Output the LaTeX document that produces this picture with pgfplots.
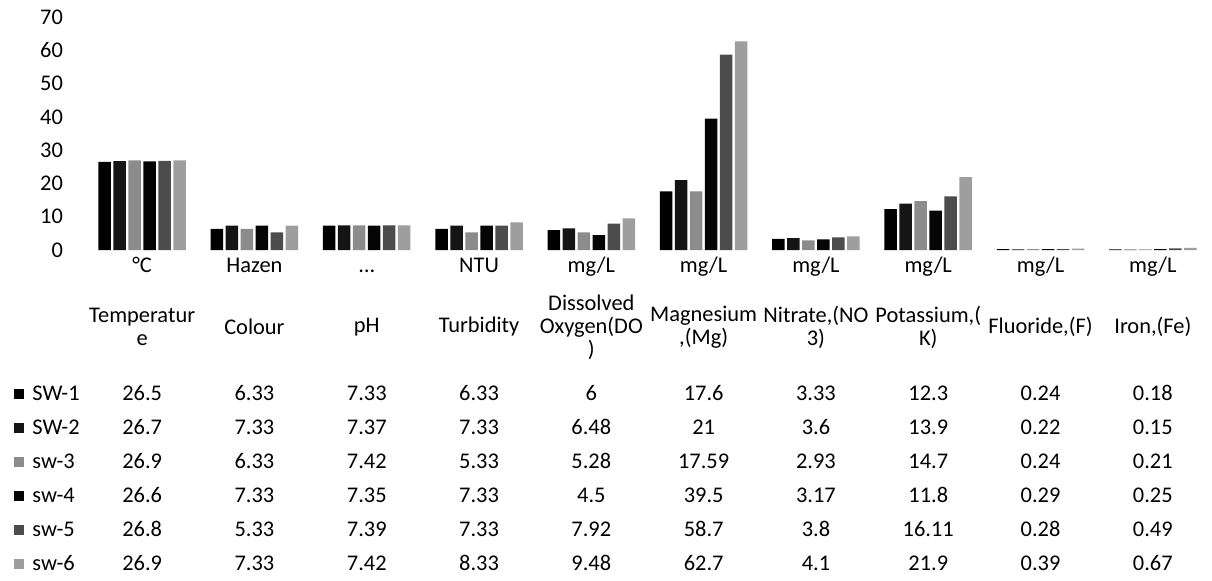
\documentclass[border=0pt]{standalone}
\usepackage{pgfplots}
\pgfplotsset{compat=1.18}
\usepackage{pgfplotstable}
\usepackage{fontspec}
\setmainfont[Numbers=Lining]{Carlito}

\pgfplotstableread{
x s1 s2 s3 s4 s5 s6
0 26.5 26.7 26.9 26.6 26.8 26.9
1 6.33 7.33 6.33 7.33 5.33 7.33
2 7.33 7.37 7.42 7.35 7.39 7.42
3 6.33 7.33 5.33 7.33 7.33 8.33
4 6 6.48 5.28 4.5 7.92 9.48
5 17.6 21 17.59 39.5 58.7 62.7
6 3.33 3.6 2.93 3.17 3.8 4.1
7 12.3 13.9 14.7 11.8 16.11 21.9
8 0.24 0.22 0.24 0.29 0.28 0.39
9 0.18 0.15 0.21 0.25 0.49 0.67
}\datatable

\definecolor{cA}{gray}{0.0}
\definecolor{cB}{gray}{0.08}
\definecolor{cC}{gray}{0.55}
\definecolor{cD}{gray}{0.02}
\definecolor{cE}{gray}{0.30}
\definecolor{cF}{gray}{0.62}

\begin{document}
\begin{tikzpicture}[font=\fontsize{11.2}{11.6}\selectfont,
  cell/.style={text height=1.6ex, text depth=0.3ex, inner sep=0pt}]
\begin{axis}[
  at={(0,0)}, anchor=south west,
  scale only axis, width=561.5pt, height=116.5pt,
  xmin=-0.5, xmax=9.5, ymin=0, ymax=70,
  axis line style={draw=none},
  major tick length=0pt,
  ytick={0,10,...,70},
  xtick={0,1,2,3,4,5,6,7,8,9},
  xticklabels={{°C},{Hazen},{\ldots},{NTU},{mg/L},{mg/L},{mg/L},{mg/L},{mg/L},{mg/L}},
  ybar=1.25pt, bar width=6.25pt,
  tick label style={font=\fontsize{11.2}{11.6}\selectfont},
  /pgf/number format/assume math mode=true,
  yticklabel style={xshift=-8pt},
  xticklabel style={text height=1.6ex, text depth=0.3ex, inner sep=0pt, yshift=-3.5pt},
  clip=false,
]
\addplot[fill=cA, draw=none] table[x=x,y=s1]{\datatable};
\addplot[fill=cB, draw=none] table[x=x,y=s2]{\datatable};
\addplot[fill=cC, draw=none] table[x=x,y=s3]{\datatable};
\addplot[fill=cD, draw=none] table[x=x,y=s4]{\datatable};
\addplot[fill=cE, draw=none] table[x=x,y=s5]{\datatable};
\addplot[fill=cF, draw=none] table[x=x,y=s6]{\datatable};
\end{axis}

% data table: parameter names
\foreach \lab [count=\i from 0] in {{Temperatur\\e},{Colour},{pH},{Turbidity},{Dissolved\\Oxygen(DO\\)},{Magnesium\\,(Mg)},{Nitrate,(NO\\3)},{Potassium,(\\K)},{Fluoride,(F)},{Iron,(Fe)}}
  \node[align=center] at ({(\i+0.5)*56.15pt},-38.5pt) {\lab};

% rows
\foreach \v [count=\i from 0] in {26.5,6.33,7.33,6.33,6,17.6,3.33,12.3,0.24,0.18}
  \node[cell] at ({(\i+0.5)*56.15pt},-72pt) {\v};
\foreach \v [count=\i from 0] in {26.7,7.33,7.37,7.33,6.48,21,3.6,13.9,0.22,0.15}
  \node[cell] at ({(\i+0.5)*56.15pt},-89pt) {\v};
\foreach \v [count=\i from 0] in {26.9,6.33,7.42,5.33,5.28,17.59,2.93,14.7,0.24,0.21}
  \node[cell] at ({(\i+0.5)*56.15pt},-106pt) {\v};
\foreach \v [count=\i from 0] in {26.6,7.33,7.35,7.33,4.5,39.5,3.17,11.8,0.29,0.25}
  \node[cell] at ({(\i+0.5)*56.15pt},-123pt) {\v};
\foreach \v [count=\i from 0] in {26.8,5.33,7.39,7.33,7.92,58.7,3.8,16.11,0.28,0.49}
  \node[cell] at ({(\i+0.5)*56.15pt},-140pt) {\v};
\foreach \v [count=\i from 0] in {26.9,7.33,7.42,8.33,9.48,62.7,4.1,21.9,0.39,0.67}
  \node[cell] at ({(\i+0.5)*56.15pt},-157pt) {\v};

% legend keys
\foreach \c/\n/\y in {cA/SW-1/-72,cB/SW-2/-89,cC/sw-3/-106,cD/sw-4/-123,cE/sw-5/-140,cF/sw-6/-157}{
  \fill[\c] (-36pt,\y pt-2.5pt) rectangle ++(5pt,5pt);
  \node[cell, anchor=west] at (-27pt,\y pt) {\n};
}

\pgfresetboundingbox
\path (-43pt,-165pt) rectangle (563pt,125pt);
\end{tikzpicture}
\end{document}
